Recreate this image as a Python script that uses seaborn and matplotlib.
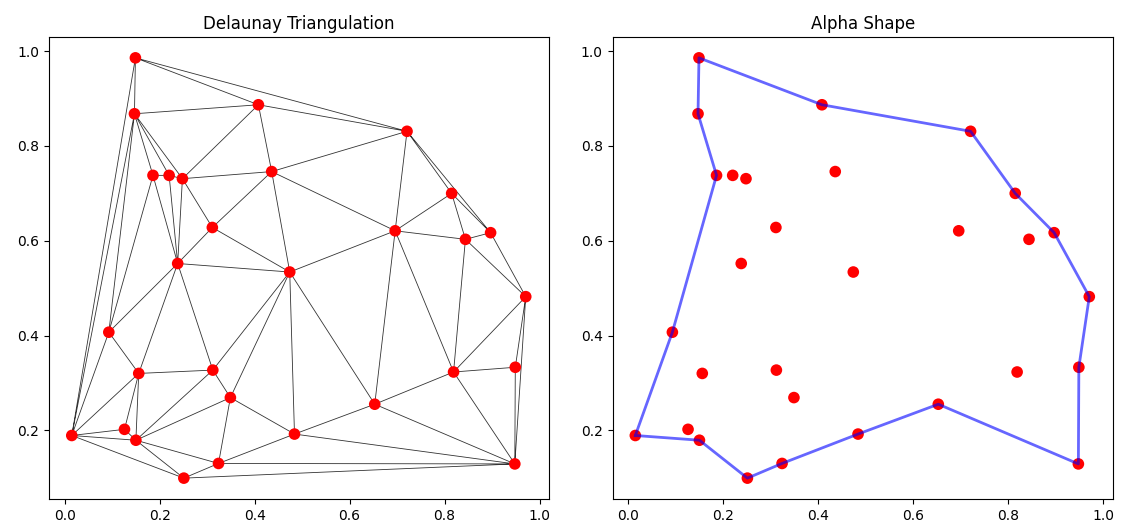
import matplotlib
matplotlib.use("Agg")
import matplotlib.pyplot as plt
import matplotlib.tri as mtri
import numpy as np
import pandas as pd
import seaborn as sns

# Point coordinates
x_vals = [0.149, 0.147, 0.408, 0.721, 0.186, 0.220, 0.248, 0.436, 0.815, 0.897,
          0.844, 0.696, 0.311, 0.238, 0.474, 0.971, 0.093, 0.156, 0.312, 0.349,
          0.819, 0.949, 0.653, 0.015, 0.126, 0.150, 0.484, 0.324, 0.251, 0.948]
y_vals = [0.986, 0.868, 0.887, 0.831, 0.738, 0.738, 0.731, 0.746, 0.700, 0.617,
          0.603, 0.621, 0.628, 0.552, 0.534, 0.482, 0.407, 0.320, 0.327, 0.269,
          0.323, 0.333, 0.255, 0.189, 0.202, 0.179, 0.192, 0.130, 0.099, 0.129]

# Alpha-shape boundary (indices into the point lists, closed loop)
boundary_idx = [23, 16, 4, 1, 0, 2, 3, 8, 9, 15, 21, 29, 22, 26, 27, 28, 25, 23]

titles = ["Delaunay Triangulation", "Alpha Shape"]

pts = pd.DataFrame({"x": x_vals, "y": y_vals})
poly = pd.DataFrame({"x": [x_vals[i] for i in boundary_idx],
                     "y": [y_vals[i] for i in boundary_idx],
                     "order": np.arange(len(boundary_idx))})

fig, (ax1, ax2) = plt.subplots(1, 2, figsize=(11.21, 5.31), dpi=100)
fig.subplots_adjust(left=0.0437, right=0.9929, bottom=0.0603, top=0.9303, wspace=0.126)

# Left: Delaunay triangulation
tri = mtri.Triangulation(np.array(x_vals), np.array(y_vals))
ax1.triplot(tri, color="black", lw=0.6, alpha=0.8)
sns.scatterplot(data=pts, x="x", y="y", ax=ax1, color="red", s=70,
                edgecolor="none", zorder=3)
ax1.set_title(titles[0], fontsize=12)

# Right: alpha shape
sns.scatterplot(data=pts, x="x", y="y", ax=ax2, color="red", s=70,
                edgecolor="none", zorder=2)
sns.lineplot(data=poly, x="x", y="y", sort=False, estimator=None, ax=ax2,
             color="blue", lw=2, alpha=0.6, zorder=3)
ax2.set_title(titles[1], fontsize=12)

for ax in (ax1, ax2):
    ax.set_xlabel("")
    ax.set_ylabel("")
    ax.set_xticks([0.0, 0.2, 0.4, 0.6, 0.8, 1.0])
    ax.set_yticks([0.2, 0.4, 0.6, 0.8, 1.0])
    ax.set_xlim(-0.033, 1.021)
    ax.set_ylim(0.055, 1.030)

fig.savefig("out.png", dpi=100)
